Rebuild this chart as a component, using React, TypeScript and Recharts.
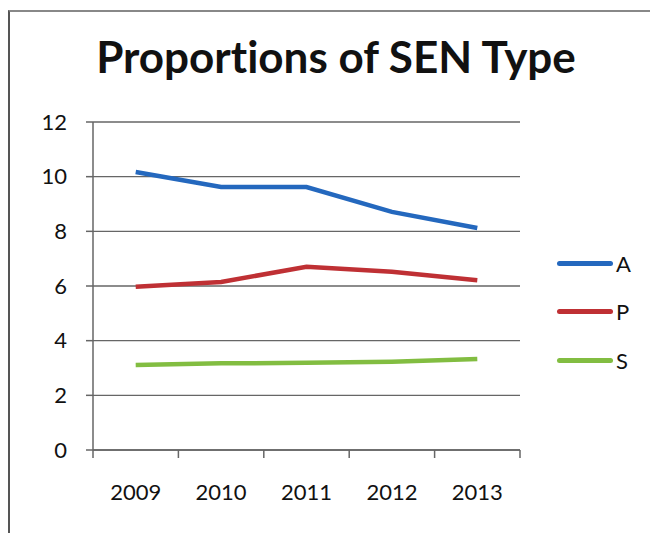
import React from "react";
import { CartesianGrid, Line, LineChart, XAxis, YAxis } from "recharts";

const years = ["2009", "2010", "2011", "2012", "2013"];
const seriesA = [10.17, 9.62, 9.62, 8.71, 8.12];
const seriesP = [5.97, 6.15, 6.7, 6.52, 6.21];
const seriesS = [3.11, 3.17, 3.19, 3.23, 3.33];
const yTicks = [0, 2, 4, 6, 8, 10, 12];
// tick marks sit between the categories, like Excel's
const boundaryTicks = [-0.5, 0.5, 1.5, 2.5, 3.5, 4.5];

const data = years.map((year, i) => ({
  year,
  idx: i,
  A: seriesA[i],
  P: seriesP[i],
  S: seriesS[i],
}));

const series = [
  { key: "A", color: "#2468be" },
  { key: "P", color: "#bf3034" },
  { key: "S", color: "#82bd41" },
];

const font = "Lato, 'Open Sans', sans-serif";

// plot is 427px wide with 5 categories -> half a band of padding each side
const halfBand = 427 / 5 / 2;

const LegendBox = () => (
  <div
    style={{
      position: "absolute",
      left: 557,
      top: 239,
      width: 90,
      fontFamily: font,
    }}
  >
    {series.map((s) => (
      <div
        key={s.key}
        style={{ display: "flex", alignItems: "center", height: 48.5 }}
      >
        <div
          style={{
            width: 56,
            height: 5,
            borderRadius: 3,
            background: s.color,
          }}
        />
        <span style={{ fontSize: 22, color: "#111", marginLeft: 3 }}>
          {s.key}
        </span>
      </div>
    ))}
  </div>
);

const App = () => {
  return (
    <div
      style={{
        position: "absolute",
        left: 0,
        top: 0,
        width: 650,
        height: 533,
        background: "#fff",
        overflow: "hidden",
      }}
    >
      <div
        style={{
          position: "absolute",
          left: 8,
          top: 10,
          width: 640,
          height: 540,
          borderLeft: "2px solid #555",
          borderTop: "2px solid #888",
          borderRight: "1px solid #ddd",
        }}
      />
      <div
        style={{
          position: "absolute",
          left: 0,
          top: 30,
          width: 672,
          textAlign: "center",
          fontFamily: font,
          fontWeight: 700,
          fontSize: 44,
          fontVariantLigatures: "none",
          color: "#111",
        }}
      >
        Proportions of SEN Type
      </div>
      <div style={{ position: "absolute", left: 0, top: 0 }}>
        <LineChart
          width={650}
          height={533}
          data={data}
          margin={{ top: 122, right: 130, bottom: 43, left: 33 }}
        >
          <CartesianGrid
            vertical={false}
            stroke="#666"
            strokeWidth={1.4}
            xAxisId="cat"
          />
          <XAxis
            xAxisId="bound"
            dataKey="idx"
            type="number"
            domain={[-0.5, 4.5]}
            allowDataOverflow
            ticks={boundaryTicks}
            height={1}
            stroke="#666"
            strokeWidth={1.5}
            tickSize={8}
            tick={() => <g />}
          />
          <XAxis
            xAxisId="cat"
            dataKey="year"
            height={39}
            padding={{ left: halfBand, right: halfBand }}
            axisLine={false}
            tickLine={false}
            tick={{ fontSize: 22, fill: "#111", fontFamily: font }}
            tickMargin={27}
          />
          <YAxis
            width={60}
            domain={[0, 12]}
            ticks={yTicks}
            stroke="#666"
            strokeWidth={1.5}
            tickSize={7}
            tick={{ fontSize: 22, fill: "#111", fontFamily: font }}
            tickMargin={19}
          />
          {series.map((s) => (
            <Line
              key={s.key}
              xAxisId="cat"
              dataKey={s.key}
              stroke={s.color}
              strokeWidth={4.5}
              dot={false}
              type="linear"
              isAnimationActive={false}
            />
          ))}
        </LineChart>
      </div>
      <LegendBox />
    </div>
  );
};

export default App;
